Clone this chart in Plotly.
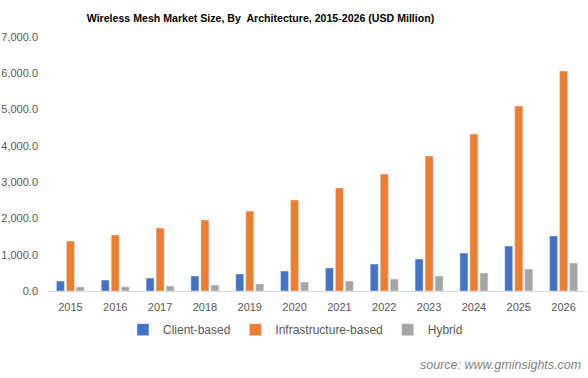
import plotly.graph_objects as go

years = ["2015", "2016", "2017", "2018", "2019", "2020", "2021", "2022", "2023", "2024", "2025", "2026"]
client = [275, 303, 358, 413, 468, 551, 634, 744, 881, 1047, 1240, 1515]
infra = [1377, 1543, 1736, 1956, 2204, 2507, 2838, 3223, 3719, 4325, 5096, 6061]
hybrid = [110, 115, 138, 165, 193, 248, 275, 330, 413, 496, 606, 771]

fig = go.Figure()
fig.add_bar(x=years, y=client, name="Client-based", marker_color="#4472C4")
fig.add_bar(x=years, y=infra, name="Infrastructure-based", marker_color="#ED7D31")
fig.add_bar(x=years, y=hybrid, name="Hybrid", marker_color="#A5A5A5")

fig.update_layout(
    width=588, height=378,
    margin=dict(l=48, r=2, t=37, b=87, autoexpand=False),
    paper_bgcolor="white", plot_bgcolor="white",
    barmode="group", bargap=0.33, bargroupgap=0.2,
    title=dict(text="<b>Wireless Mesh Market Size, By  Architecture, 2015-2026 (USD Million)</b>",
               x=0.443, xanchor="center", y=0.952, yanchor="middle",
               font=dict(family="Liberation Sans, Arial", size=10.6, color="#000000")),
    font=dict(family="Liberation Sans, Arial", size=11, color="#595959"),
    showlegend=True,
    legend=dict(orientation="h", x=0.46, xanchor="center", y=-0.095, yanchor="top",
                font=dict(size=12, color="#595959"),
                itemwidth=30, traceorder="normal"),
    xaxis=dict(showline=True, linecolor="#D9D9D9", linewidth=1, ticks="",
               ticklabelstandoff=6,
               tickfont=dict(size=11, color="#595959"), showgrid=False),
    yaxis=dict(range=[0, 7000], dtick=1000, tickformat=",.1f", showgrid=False,
               zeroline=False, ticks="", ticklabelstandoff=9,
               tickfont=dict(size=11, color="#595959")),
)
fig.add_annotation(text="<i>source: www.gminsights.com</i>", xref="paper", yref="paper",
                   x=0.995, xanchor="right", y=-0.29, yanchor="middle", showarrow=False,
                   font=dict(family="Liberation Sans, Arial", size=12.5, color="#7F7F7F"))

fig.write_html("out.html", config={"displayModeBar": False},
               post_script="document.body.style.margin='0';window.dispatchEvent(new Event('resize'));")
